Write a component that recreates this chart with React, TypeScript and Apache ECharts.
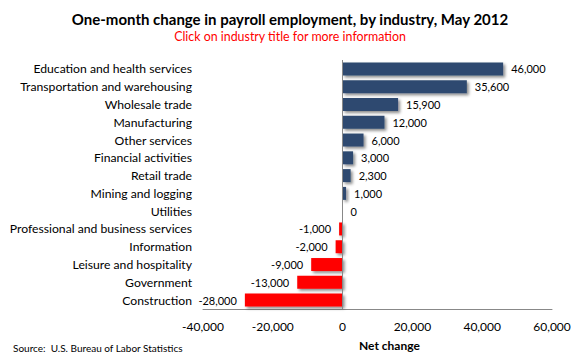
import React, { useEffect, useRef } from "react";
import * as echarts from "echarts";

const categories = [
  "Education and health services",
  "Transportation and warehousing",
  "Wholesale trade",
  "Manufacturing",
  "Other services",
  "Financial activities",
  "Retail trade",
  "Mining and logging",
  "Utilities",
  "Professional and business services",
  "Information",
  "Leisure and hospitality",
  "Government",
  "Construction",
];

const values = [46000, 35600, 15900, 12000, 6000, 3000, 2300, 1000, 0, -1000, -2000, -9000, -13000, -28000];

const xTicks = { min: -40000, max: 60000, interval: 20000 };

const FONT = "Lato, 'Open Sans', sans-serif";

export default function App() {
  const ref = useRef<HTMLDivElement>(null);
  useEffect(() => {
    if (!ref.current) return;
    const chart = echarts.init(ref.current, null, { renderer: "svg" });
    const fmt = (v: number) => v.toLocaleString("en-US");
    chart.setOption({
      animation: false,
      backgroundColor: "#ffffff",
      textStyle: { fontFamily: FONT },
      title: [
        {
          text: "One-month change in payroll employment, by industry, May 2012",
          left: "center",
          top: 11,
          padding: 0,
          textStyle: { fontFamily: FONT, fontSize: 15, fontWeight: "bold", color: "#000" },
        },
        {
          text: "Click on industry title for more information",
          left: "center",
          top: 30,
          padding: 0,
          textStyle: { fontFamily: FONT, fontSize: 12.4, fontWeight: "normal", color: "#ff0000" },
        },
        {
          text: "Net change",
          left: 359,
          top: 339,
          padding: 0,
          textStyle: { fontFamily: FONT, fontSize: 12, fontWeight: "bold", color: "#000" },
        },
        {
          text: "Source:  U.S. Bureau of Labor Statistics",
          left: 13,
          top: 343,
          padding: 0,
          textStyle: { fontFamily: FONT, fontSize: 10, fontWeight: "normal", color: "#000" },
        },
      ],
      grid: { left: 203, right: 28, top: 60, bottom: 51, containLabel: false },
      xAxis: {
        type: "value",
        min: xTicks.min,
        max: xTicks.max,
        interval: xTicks.interval,
        axisLine: { show: true, lineStyle: { color: "#888888", width: 1 } },
        axisTick: { show: false },
        splitLine: { show: false },
        axisLabel: {
          fontFamily: FONT,
          fontSize: 12,
          color: "#000",
          margin: 11,
          formatter: (v: number) => fmt(v),
        },
      },
      yAxis: {
        type: "category",
        data: categories,
        inverse: true,
        axisLine: { show: false, onZero: false },
        axisTick: { show: false },
        axisLabel: { fontFamily: FONT, fontSize: 12.2, color: "#000", margin: 11 },
      },
      series: [
        {
          type: "bar",
          barWidth: 13,
          data: values.map((v) => ({
            value: v,
            itemStyle: {
              color: v >= 0 ? "#2e4a6f" : "#ff0000",
              shadowColor: "rgba(0,0,0,0.45)",
              shadowBlur: 3,
              shadowOffsetX: 2,
              shadowOffsetY: 2,
            },
            label: {
              show: true,
              position: v >= 0 ? "right" : "left",
              distance: 8,
              fontFamily: FONT,
              fontSize: 11,
              color: "#000",
              formatter: () => fmt(v),
            },
          })),
          markLine: {
            silent: true,
            symbol: "none",
            label: { show: false },
            lineStyle: { color: "#888888", width: 1, type: "solid" },
            data: [{ xAxis: 0 }],
          },
        },
      ],
    });
    return () => chart.dispose();
  }, []);
  return <div ref={ref} style={{ width: 580, height: 360, position: "absolute", left: 0, top: 0 }} />;
}
